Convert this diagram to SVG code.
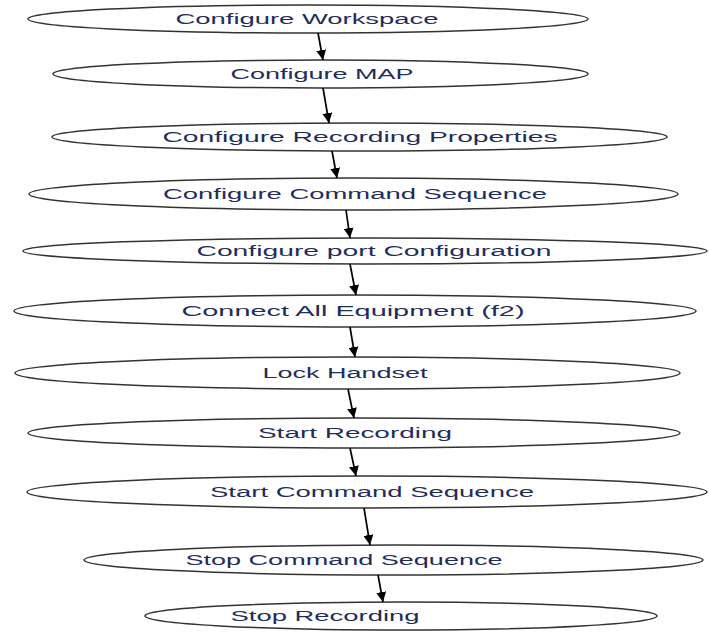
<svg xmlns="http://www.w3.org/2000/svg" width="709" height="632" viewBox="0 0 709 632">
<defs>
<style>
.n ellipse{fill:#fff;stroke:#333;stroke-width:1.5}
.n text{font-family:"Liberation Sans",Arial,sans-serif;font-size:14px;fill:#1f2d5c;text-anchor:middle}
.c line{stroke:#000;stroke-width:1.7;marker-end:url(#ah)}
</style>
<marker id="ah" viewBox="0 0 10 10" refX="10" refY="5" markerWidth="10" markerHeight="10" markerUnits="userSpaceOnUse" orient="auto">
<path d="M0,0 L10,5 L0,10 z" fill="#000"/>
</marker>
</defs>
<rect width="709" height="632" fill="#fff"/>
<g id="n1" class="n"><ellipse cx="308" cy="19" rx="280" ry="14"/><text x="307" y="24" textLength="263" lengthAdjust="spacingAndGlyphs">Configure Workspace</text></g>
<g id="n2" class="n"><ellipse cx="320.5" cy="74" rx="267.5" ry="14"/><text x="322" y="79" textLength="183" lengthAdjust="spacingAndGlyphs">Configure MAP</text></g>
<g id="n3" class="n"><ellipse cx="359.5" cy="137" rx="307.5" ry="14"/><text x="360" y="142" textLength="395" lengthAdjust="spacingAndGlyphs">Configure Recording Properties</text></g>
<g id="n4" class="n"><ellipse cx="353.5" cy="194" rx="324.5" ry="16"/><text x="355" y="199" textLength="384" lengthAdjust="spacingAndGlyphs">Configure Command Sequence</text></g>
<g id="n5" class="n"><ellipse cx="365" cy="251" rx="342" ry="13"/><text x="374" y="256" textLength="355" lengthAdjust="spacingAndGlyphs">Configure port Configuration</text></g>
<g id="n6" class="n"><ellipse cx="355" cy="311" rx="341" ry="16"/><text x="353" y="316" textLength="343" lengthAdjust="spacingAndGlyphs">Connect All Equipment (f2)</text></g>
<g id="n7" class="n"><ellipse cx="347.5" cy="373" rx="332.5" ry="16"/><text x="345" y="378" textLength="165" lengthAdjust="spacingAndGlyphs">Lock Handset</text></g>
<g id="n8" class="n"><ellipse cx="354" cy="433" rx="326" ry="15"/><text x="355" y="438" textLength="194" lengthAdjust="spacingAndGlyphs">Start Recording</text></g>
<g id="n9" class="n"><ellipse cx="367" cy="492" rx="340" ry="16"/><text x="372" y="497" textLength="324" lengthAdjust="spacingAndGlyphs">Start Command Sequence</text></g>
<g id="n10" class="n"><ellipse cx="393.5" cy="560" rx="309.5" ry="15"/><text x="344" y="565" textLength="317" lengthAdjust="spacingAndGlyphs">Stop Command Sequence</text></g>
<g id="n11" class="n"><ellipse cx="401" cy="616" rx="256" ry="14"/><text x="325" y="621" textLength="189" lengthAdjust="spacingAndGlyphs">Stop Recording</text></g>
<g id="connectors" class="c">
<line x1="318" y1="33" x2="323" y2="60"/>
<line x1="323" y1="88" x2="329" y2="123"/>
<line x1="332" y1="151" x2="337" y2="178"/>
<line x1="346" y1="210" x2="350" y2="238"/>
<line x1="350" y1="264" x2="356" y2="295"/>
<line x1="350" y1="327" x2="355" y2="357"/>
<line x1="348" y1="389" x2="354" y2="418"/>
<line x1="350" y1="448" x2="356" y2="476"/>
<line x1="364" y1="508" x2="370" y2="545"/>
<line x1="378" y1="575" x2="383" y2="602"/>
</g>
</svg>
